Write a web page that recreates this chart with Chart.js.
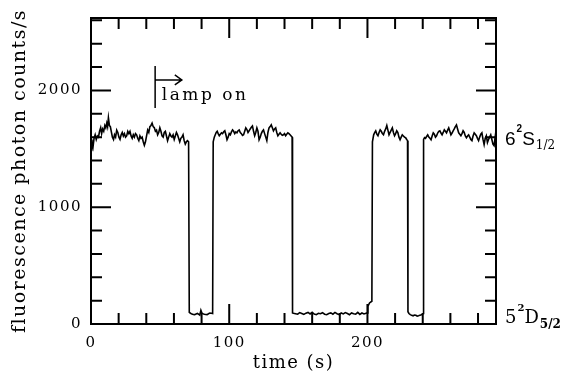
<!DOCTYPE html>
<html>
<head>
<meta charset="utf-8">
<script src="https://cdn.jsdelivr.net/npm/chart.js@4/dist/chart.umd.min.js"></script>
<style>
  html, body { margin: 0; padding: 0; background: #fff; }
  #chart { display: block; }
</style>
</head>
<body>
<canvas id="chart" width="561" height="374"></canvas>
<script>
// trace: [time (s), counts/s], one array per level
const bright1 = [
  [0, 1580], [0.7, 1540], [1.4, 1510], [2.2, 1590], [3, 1620], [3.8, 1580], [4.6, 1610], [5.4, 1600],
  [6.2, 1650], [7, 1680], [7.7, 1630], [8.4, 1670], [9.2, 1650], [10, 1700], [10.7, 1680], [11.4, 1720],
  [12, 1690], [12.6, 1765], [13.3, 1700], [14, 1690], [14.8, 1640], [15.5, 1600], [16.3, 1580], [17, 1620],
  [17.8, 1600], [18.6, 1660], [19.4, 1640], [20.2, 1600], [21, 1580], [21.8, 1620], [22.6, 1640], [23.4, 1610],
  [24.2, 1630], [25, 1600], [25.8, 1610], [26.6, 1650], [27.4, 1630], [28.2, 1650], [29, 1610], [29.8, 1590],
  [30.6, 1620], [31.4, 1600], [32.2, 1630], [33, 1620], [33.8, 1590], [34.6, 1570], [35.4, 1610], [36.2, 1590],
  [37, 1600], [37.8, 1560], [38.6, 1530], [39.4, 1560], [40.2, 1610], [41, 1660], [41.8, 1640], [42.6, 1690],
  [43.4, 1700], [44.2, 1720], [45, 1690], [45.8, 1680], [46.6, 1650], [47.4, 1660], [48.2, 1620], [49, 1640],
  [49.8, 1680], [50.6, 1650], [51.4, 1610], [52.2, 1600], [53, 1640], [53.8, 1650], [54.6, 1610], [55.4, 1570],
  [56.2, 1600], [57, 1630], [57.8, 1610], [58.6, 1600], [59.4, 1620], [60.2, 1580], [61, 1610], [61.8, 1640],
  [62.6, 1620], [63.4, 1590], [64.2, 1560], [65, 1590], [65.8, 1600], [66.6, 1620], [67.4, 1570], [68.2, 1540],
  [69, 1560], [69.8, 1570], [70.6, 1560]
];
const dark1 = [
  [71.1, 100], [72, 92], [73, 85], [74, 82], [75, 80], [76, 86], [77, 90], [78, 82], [78.7, 76], [79.5, 118],
  [80.3, 92], [81, 88], [82, 84], [83, 82], [84, 80], [85, 88], [86, 94], [87, 92], [88, 90]
];
const bright2 = [
  [88.4, 1560], [89.2, 1600], [89.9, 1620], [90.6, 1640], [91.3, 1650], [92, 1630], [92.8, 1612], [93.6, 1625],
  [94.4, 1637], [95.2, 1630], [96, 1645], [96.8, 1654], [97.6, 1620], [98.4, 1578], [99.2, 1600], [100, 1630],
  [100.8, 1620], [101.6, 1645], [102.4, 1662], [103.2, 1650], [104, 1630], [104.8, 1645], [105.6, 1637], [106.4, 1655],
  [107.2, 1662], [108, 1640], [108.8, 1630], [109.6, 1615], [110.4, 1620], [111.2, 1650], [112, 1679], [112.8, 1665],
  [113.6, 1640], [114.4, 1654], [115.2, 1670], [116, 1685], [116.8, 1696], [117.6, 1650], [118.4, 1612], [119.2, 1640],
  [120, 1679], [120.8, 1650], [121.6, 1578], [122.4, 1600], [123.2, 1630], [124, 1650], [124.8, 1662], [125.6, 1630],
  [126.4, 1600], [127.2, 1570], [128, 1640], [128.8, 1679], [129.6, 1690], [130.4, 1705], [131.2, 1680], [132, 1654],
  [132.8, 1670], [133.6, 1679], [134.4, 1640], [135.2, 1612], [136, 1625], [136.8, 1637], [137.6, 1625], [138.4, 1615],
  [139.2, 1620], [140, 1630], [140.8, 1612], [141.6, 1625], [142.4, 1637], [143.2, 1630], [144, 1620], [144.8, 1610],
  [145.5, 1600]
];
const dark2 = [
  [145.8, 95], [146.5, 92], [148, 88], [149.5, 84], [151, 98], [152.5, 90], [154, 82], [155.5, 93], [157, 99],
  [158.5, 86], [160, 100], [161.5, 85], [163, 80], [164.5, 92], [166, 88], [167.5, 97], [169, 84], [170.5, 80],
  [172, 90], [173.5, 95], [175, 84], [176.5, 99], [178, 88], [179.5, 81], [181, 94], [182.5, 86], [184, 98],
  [185.5, 90], [187, 80], [188.5, 95], [190, 88], [191.5, 84], [193, 100], [194.5, 82], [196, 94], [197.5, 86],
  [199, 92], [199.8, 95], [200.3, 150], [201.5, 180], [203.2, 195]
];
const bright3 = [
  [203.6, 1560], [204.5, 1620], [205.3, 1640], [206, 1654], [206.8, 1625], [207.6, 1612], [208.4, 1640], [209.2, 1662],
  [210, 1650], [210.8, 1630], [211.6, 1620], [212.4, 1650], [213.2, 1670], [214, 1700], [214.8, 1660], [215.6, 1620],
  [216.4, 1640], [217.2, 1660], [218, 1679], [218.8, 1640], [219.6, 1612], [220.4, 1630], [221.2, 1654], [222, 1640],
  [222.8, 1600], [223.6, 1578], [224.4, 1600], [225.2, 1620], [226, 1610], [226.8, 1600], [227.6, 1595], [228.4, 1580],
  [229, 1570]
];
const dark3 = [
  [229.3, 105], [230, 90], [231, 80], [232, 74], [233, 70], [234, 76], [235, 75], [236, 68], [237, 70], [238, 76],
  [239, 80], [240, 86], [240.4, 90]
];
const bright4 = [
  [240.6, 1580], [241.3, 1595], [242, 1590], [242.8, 1605], [243.6, 1620], [244.4, 1600], [245.2, 1590], [246, 1578],
  [246.8, 1610], [247.6, 1637], [248.4, 1625], [249.2, 1600], [250, 1612], [250.8, 1635], [251.6, 1650], [252.4, 1654],
  [253.2, 1635], [254, 1620], [254.8, 1640], [255.6, 1662], [256.4, 1650], [257.2, 1637], [258, 1660], [258.8, 1679],
  [259.6, 1650], [260.4, 1620], [261.2, 1635], [262, 1654], [262.8, 1670], [263.6, 1690], [264.4, 1705], [265.2, 1670],
  [266, 1637], [266.8, 1625], [267.6, 1612], [268.4, 1630], [269.2, 1654], [270, 1640], [270.8, 1610], [271.6, 1595],
  [272.4, 1610], [273.2, 1620], [274, 1600], [274.8, 1580], [275.6, 1570], [276.4, 1610], [277.2, 1637], [278, 1625],
  [278.8, 1612], [279.6, 1590], [280.4, 1570], [281.2, 1600], [282, 1625], [282.8, 1637], [283.6, 1580], [284.4, 1536],
  [285.2, 1590], [286, 1612], [286.8, 1553], [287.6, 1580], [288.4, 1600], [289.2, 1620], [290, 1580], [290.8, 1540],
  [291.6, 1527], [292.4, 1600], [293, 1560], [293.5, 1578]
];

const xTicks = [0, 20, 40, 60, 80, 100, 120, 140, 160, 180, 200, 220, 240, 260, 280];
const yTicks = [0, 200, 400, 600, 800, 1000, 1200, 1400, 1600, 1800, 2000, 2200, 2400, 2600];
const xLabels = [0, 100, 200];
const yLabels = [0, 1000, 2000];

// "lamp on" marker, in data units
const lampT = 46.4;
const lampBarTop = 2210;
const lampBarBottom = 1850;
const arrowEndT = 65.7;
const arrowY = 2090;
const lampTextT = 51.2;
const lampTextY = 1915;

// level labels on the right (baseline values)
const upperLevelY = 1535;
const lowerLevelY = 8;

const SERIF = '"DejaVu Serif", serif';
const SANS = '"Liberation Sans", Arial, sans-serif';

const trace = [].concat(bright1, dark1, bright2, dark2, bright3, dark3, bright4);

// frame, inward ticks, annotations
const framePlugin = {
  id: 'frame',
  beforeDraw(chart) {
    chart.ctx.letterSpacing = '1.5px';
  },
  afterDraw(chart) {
    const ctx = chart.ctx;
    const { left, right, top, bottom } = chart.chartArea;
    const xs = chart.scales.x;
    const ys = chart.scales.y;
    ctx.save();
    ctx.letterSpacing = '0px';
    ctx.strokeStyle = '#000';
    ctx.lineWidth = 2;
    ctx.strokeRect(left, top, right - left, bottom - top);

    ctx.beginPath();
    xs.ticks.forEach(t => {
      const px = xs.getPixelForValue(t.value);
      const len = xLabels.includes(t.value) ? 20 : 11;
      ctx.moveTo(px, bottom); ctx.lineTo(px, bottom - len);
      ctx.moveTo(px, top); ctx.lineTo(px, top + len);
    });
    ys.ticks.forEach(t => {
      const py = ys.getPixelForValue(t.value);
      const len = yLabels.includes(t.value) ? 20 : 11;
      ctx.moveTo(left, py); ctx.lineTo(left + len, py);
      ctx.moveTo(right, py); ctx.lineTo(right - len, py);
    });
    ctx.stroke();

    // lamp on marker
    ctx.lineWidth = 1.5;
    const lx = xs.getPixelForValue(lampT);
    const ay = ys.getPixelForValue(arrowY);
    const ax = xs.getPixelForValue(arrowEndT);
    ctx.beginPath();
    ctx.moveTo(lx, ys.getPixelForValue(lampBarTop));
    ctx.lineTo(lx, ys.getPixelForValue(lampBarBottom));
    ctx.moveTo(lx, ay); ctx.lineTo(ax, ay);
    ctx.moveTo(ax - 7, ay - 5); ctx.lineTo(ax, ay); ctx.lineTo(ax - 7, ay + 5);
    ctx.stroke();

    ctx.fillStyle = '#000';
    ctx.textBaseline = 'alphabetic';
    ctx.textAlign = 'left';
    ctx.letterSpacing = '2.5px';
    ctx.font = '17px ' + SERIF;
    ctx.fillText('lamp on', xs.getPixelForValue(lampTextT), ys.getPixelForValue(lampTextY));

    // level labels
    ctx.letterSpacing = '0px';
    const drawLevel = (y, parts) => {
      let x = right + 9;
      parts.forEach(p => {
        ctx.font = p.font;
        ctx.fillText(p.text, x, y + p.dy);
        x += ctx.measureText(p.text).width + (p.gap || 0);
      });
    };
    drawLevel(ys.getPixelForValue(upperLevelY), [
      { text: '6', font: '19px ' + SANS, dy: 0, gap: 1 },
      { text: '2', font: 'bold 10px ' + SANS, dy: -13 },
      { text: 'S', font: '19px ' + SANS, dy: 0, gap: 1 },
      { text: '1/2', font: '12px ' + SERIF, dy: 4 }
    ]);
    drawLevel(ys.getPixelForValue(lowerLevelY), [
      { text: '5', font: '18px ' + SERIF, dy: 0, gap: 1 },
      { text: '2', font: 'bold 10px ' + SERIF, dy: -12 },
      { text: 'D', font: '18px ' + SERIF, dy: 0, gap: 1 },
      { text: '5/2', font: 'bold 12px ' + SERIF, dy: 5 }
    ]);
    ctx.restore();
  }
};

new Chart(document.getElementById('chart'), {
  type: 'scatter',
  data: {
    datasets: [{
      data: trace.map(p => ({ x: p[0], y: p[1] })),
      showLine: true,
      borderColor: '#000',
      borderWidth: 1.6,
      pointRadius: 0,
      tension: 0
    }]
  },
  options: {
    responsive: false,
    animation: false,
    devicePixelRatio: 1,
    layout: { padding: { left: 0, right: 65, top: 14, bottom: 0 } },
    scales: {
      x: {
        type: 'linear', min: 0, max: 293,
        border: { display: false },
        grid: { display: false, drawTicks: false, tickLength: 0 },
        afterBuildTicks: s => { s.ticks = xTicks.map(v => ({ value: v })); },
        ticks: {
          autoSkip: false, maxRotation: 0,
          padding: 10, color: '#000', font: { family: SERIF, size: 15 },
          callback: v => xLabels.includes(v) ? String(v) : ''
        },
        title: {
          display: true, text: 'time (s)', color: '#000',
          font: { family: SERIF, size: 18 }, padding: { top: 0, bottom: 0 }
        },
        afterFit: s => { s.height = 50; }
      },
      y: {
        type: 'linear', min: 0, max: 2620,
        border: { display: false },
        grid: { display: false, drawTicks: false, tickLength: 0 },
        afterBuildTicks: s => { s.ticks = yTicks.map(v => ({ value: v })); },
        ticks: {
          autoSkip: false,
          padding: 9, color: '#000', font: { family: SERIF, size: 15 },
          callback: v => yLabels.includes(v) ? String(v) : ''
        },
        title: {
          display: true, text: 'fluorescence photon counts/s', color: '#000',
          font: { family: SERIF, size: 19 }, padding: { top: 9, bottom: 0 }
        },
        afterFit: s => { s.width = 91; }
      }
    },
    plugins: { legend: { display: false }, tooltip: { enabled: false } }
  },
  plugins: [framePlugin]
});
</script>
</body>
</html>
